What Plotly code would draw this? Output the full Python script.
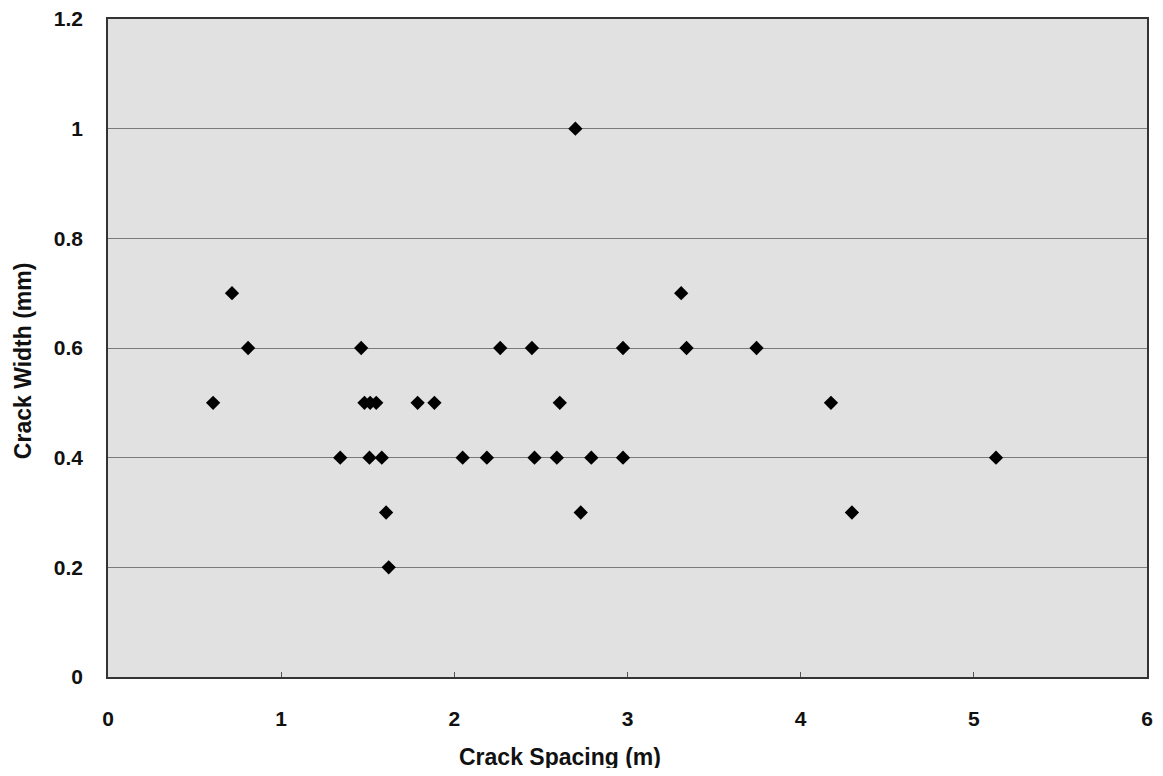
import plotly.graph_objects as go

crack_spacing = [0.607, 0.716, 0.809,
                 1.341, 1.462, 1.481, 1.514, 1.549, 1.510, 1.581, 1.606, 1.621,
                 1.788, 1.885, 2.048, 2.188, 2.265, 2.448, 2.463, 2.592, 2.609,
                 2.699, 2.730, 2.791, 2.974, 2.974, 3.310, 3.341, 3.745,
                 4.175, 4.296, 5.128]
crack_width = [0.5, 0.7, 0.6,
               0.4, 0.6, 0.5, 0.5, 0.5, 0.4, 0.4, 0.3, 0.2,
               0.5, 0.5, 0.4, 0.4, 0.6, 0.6, 0.4, 0.4, 0.5,
               1.0, 0.3, 0.4, 0.4, 0.6, 0.7, 0.6, 0.6,
               0.5, 0.3, 0.4]

x_ticks = [0, 1, 2, 3, 4, 5, 6]
y_ticks = [0, 0.2, 0.4, 0.6, 0.8, 1.0, 1.2]
y_tick_labels = ["0", "0.2", "0.4", "0.6", "0.8", "1", "1.2"]
x_title = "Crack Spacing (m)"
y_title = "Crack Width (mm)"

fig = go.Figure()
fig.add_trace(go.Scatter(
    x=crack_spacing, y=crack_width, mode="markers",
    marker=dict(symbol="diamond", size=11, color="black"),
    showlegend=False,
))

font_main = "Liberation Sans, Arial, sans-serif"
fig.update_layout(
    width=1147, height=760,
    margin=dict(l=100, r=8, t=11, b=91),
    paper_bgcolor="white",
    plot_bgcolor="#e1e1e1",
    font=dict(family=font_main, size=21, color="#111111"),
    xaxis=dict(
        range=[0, 6], tickvals=x_ticks, ticktext=[str(v) for v in x_ticks],
        showgrid=False, zeroline=False, automargin=False,
        ticklabeloverflow="allow",
        showline=True, linecolor="#333333", linewidth=1.5, mirror=True,
        ticks="inside", ticklen=5, tickcolor="#555555",
        tickfont=dict(family=font_main, size=21, color="#111111", weight="bold"),
        ticklabelstandoff=22,
    ),
    yaxis=dict(
        range=[0, 1.2], tickvals=y_ticks, ticktext=y_tick_labels,
        showgrid=True, gridcolor="#7a7a7a", gridwidth=1.2,
        zeroline=False, automargin=False,
        ticklabeloverflow="allow",
        showline=True, linecolor="#333333", linewidth=1.5, mirror=True,
        ticks="",
        tickfont=dict(family=font_main, size=21, color="#111111", weight="bold"),
        ticklabelstandoff=19,
    ),
    annotations=[
        dict(text="<b>" + x_title + "</b>", xref="paper", yref="paper",
             x=0.435, y=0, yshift=-80, xanchor="center", yanchor="middle",
             showarrow=False, font=dict(family=font_main, size=23, color="#111111")),
        dict(text="<b>" + y_title + "</b>", xref="paper", yref="paper",
             x=0, y=0.48, xshift=-85, xanchor="center", yanchor="middle",
             textangle=-90, showarrow=False,
             font=dict(family=font_main, size=23, color="#111111")),
    ],
)

fig.write_html("out.html")
